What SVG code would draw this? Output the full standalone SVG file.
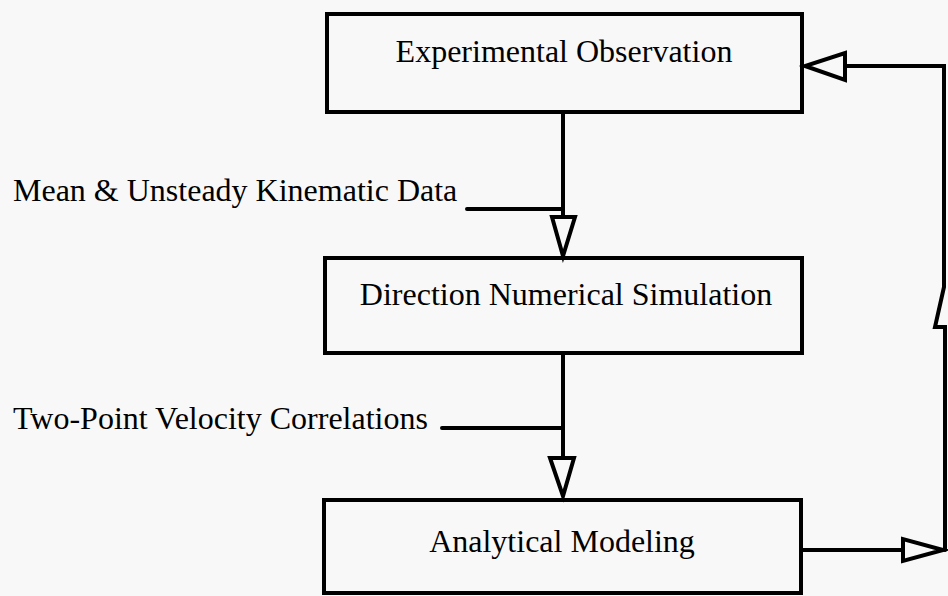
<svg xmlns="http://www.w3.org/2000/svg" width="948" height="596" viewBox="0 0 948 596">
<style>
.box{fill:none;stroke:#000;stroke-width:4}
.ln{fill:none;stroke:#000;stroke-width:4;stroke-linecap:round;stroke-linejoin:miter}
.hd{fill:#f8f8f8;stroke:#000;stroke-width:4;stroke-linejoin:miter}
text{font-family:"Liberation Serif","Times New Roman",serif;font-size:32px;fill:#000}
</style>
<rect x="0" y="0" width="948" height="596" fill="#f8f8f8"/>
<g id="node-experimental">
<rect class="box" x="327" y="14" width="475" height="98"/>
<text x="564" y="62" text-anchor="middle">Experimental Observation</text>
</g>
<g id="node-dns">
<rect class="box" x="325" y="258" width="477" height="95"/>
<text x="566" y="305" text-anchor="middle">Direction Numerical Simulation</text>
</g>
<g id="node-analytical">
<rect class="box" x="324" y="500" width="477" height="93"/>
<text x="562" y="552" text-anchor="middle">Analytical Modeling</text>
</g>
<g id="label-mean">
<text x="13" y="201">Mean &amp; Unsteady Kinematic Data</text>
</g>
<g id="label-twopoint">
<text x="13" y="429">Two-Point Velocity Correlations</text>
</g>
<g id="connectors">
<path class="ln" d="M563 112 V217 M467 209 H563"/>
<polygon class="hd" points="552,217 575,217 563,256"/>
<path class="ln" d="M563 353 V458 M442 428 H563"/>
<polygon class="hd" points="550,458 574,458 563,496"/>
<path class="ln" d="M801 550 H903"/>
<polygon class="hd" points="903,539 903,561 943,550"/>
<path class="ln" d="M945 550 V327 H935 L944 287 V66 H845"/>
<polygon class="hd" points="845,53 845,80 805,66"/>
</g>
</svg>
